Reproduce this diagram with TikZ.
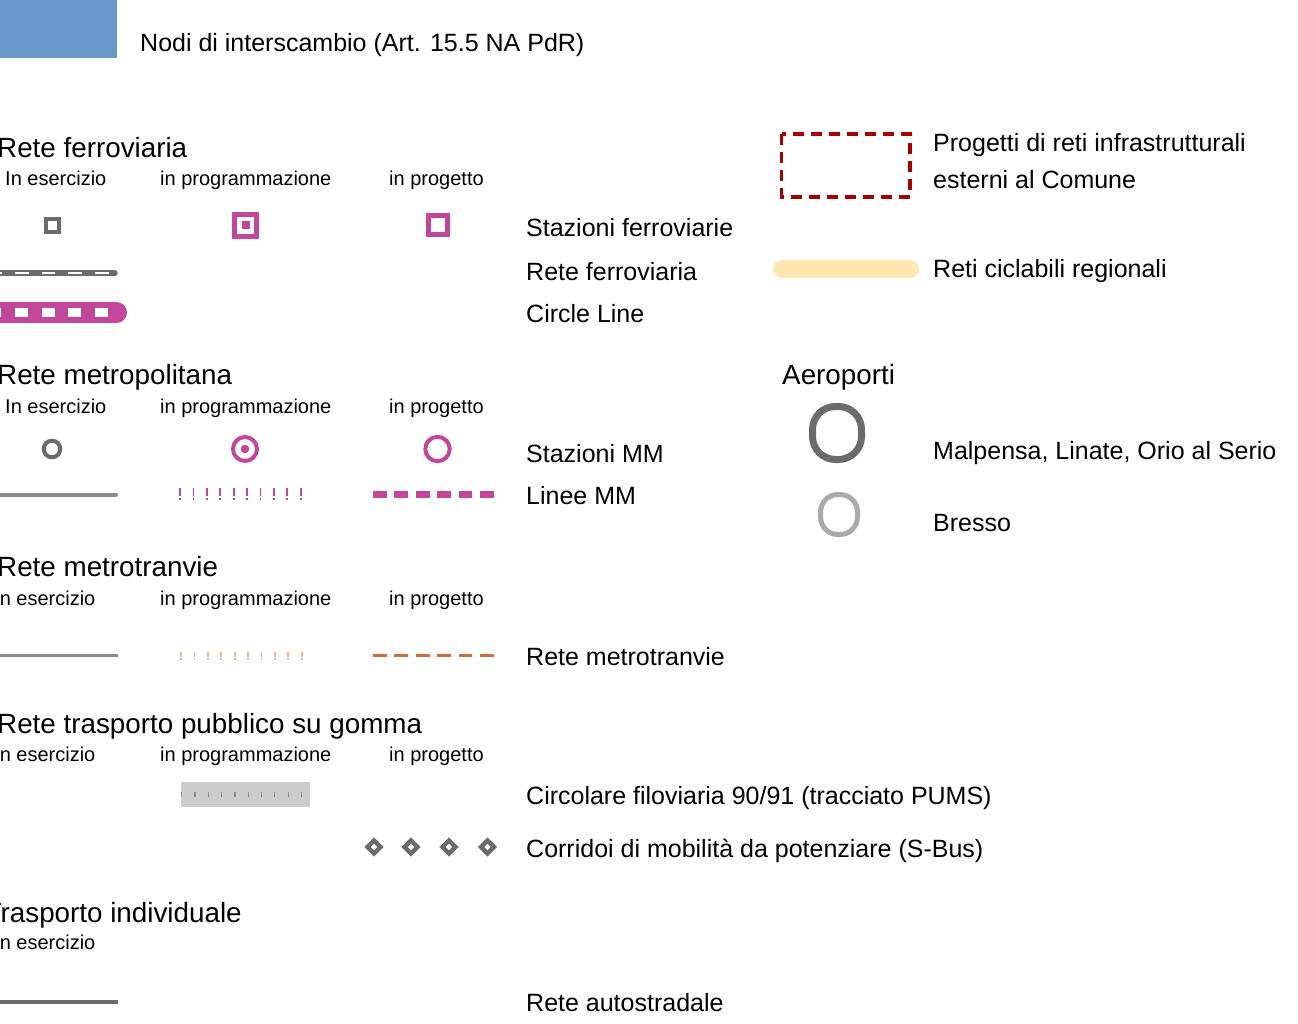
\documentclass[tikz,border=0pt]{standalone}
\usepackage{fontspec}
\setmainfont{Liberation Sans}
\usepackage{xcolor}
\usepackage{tikz}
\definecolor{nodeBlue}{HTML}{6698C8}
\definecolor{stationGray}{HTML}{6B6B6B}
\definecolor{lineGray}{HTML}{8A8A8A}
\definecolor{mmMagenta}{HTML}{C2479A}
\definecolor{tramOrange}{HTML}{CC6E3A}
\definecolor{tramLight}{HTML}{EBB598}
\definecolor{busGray}{HTML}{CCCCCC}
\definecolor{extRed}{HTML}{A50000}
\definecolor{cycleYellow}{HTML}{FDE8B2}
\definecolor{airLight}{HTML}{AAAAAA}
\tikzset{
  legendHead/.style={anchor=base west, inner sep=0pt, font=\fontsize{27.8}{31}\selectfont},
  legendSub/.style={anchor=base west, inner sep=0pt, font=\fontsize{20}{23}\selectfont},
  legendText/.style={anchor=base west, inner sep=0pt, font=\fontsize{25}{29}\selectfont},
  railLine/.style={line width=5.5pt, line cap=round},
  mmTick/.style={mmMagenta, dash pattern=on 1.8pt off 11.6pt},
  tramTick/.style={tramLight, dash pattern=on 1.8pt off 11.6pt},
  planDash/.style={dash pattern=on 13.7pt off 7.7pt}
}

\begin{document}
\begin{tikzpicture}[x=1pt,y=-1pt]
  \useasboundingbox (0,0) rectangle (1298,1024);
  \clip (0,0) rectangle (1298,1024);

  \fill[nodeBlue] (0,0) rectangle (117,58);
  \node[legendText] (nodiLabel) at (140,52) {Nodi di interscambio (Art. 15.5 NA PdR)};

  \node[legendHead] (railHead) at (-3,158) {Rete ferroviaria};
  \node[legendSub] (railEser) at (5,186) {In esercizio};
  \node[legendSub] (railProg) at (160,186) {in programmazione};
  \node[legendSub] (railProj) at (389,186) {in progetto};
  \draw[stationGray, line width=4pt] (46,219) rectangle (59,232);
  \draw[mmMagenta, line width=5pt] (234.5,214.5) rectangle (256.5,236.5);
  \fill[mmMagenta] (241.5,221.5) rectangle (249.5,229.5);
  \draw[mmMagenta, line width=5pt] (428.5,216) rectangle (447.5,235);
  \draw[stationGray, railLine] (-10,273) -- (115,273);
  \draw[white, line width=2.2pt, dash pattern=on 13.5pt off 13.2pt] (-11.7,273) -- (110,273);
  \draw[mmMagenta, line width=21pt, line cap=round] (-20,312.5) -- (116.5,312.5);
  \draw[white, line width=9pt, dash pattern=on 13pt off 13.7pt] (-11.7,312.5) -- (110,312.5);
  \node[legendText] (railStations) at (526,237) {Stazioni ferroviarie};
  \node[legendText] (railNetwork) at (526,281) {Rete ferroviaria};
  \node[legendText] (circleLine) at (526,322) {Circle Line};

  \node[legendHead] (mmHead) at (-3,384) {Rete metropolitana};
  \node[legendSub] (mmEser) at (5,413) {In esercizio};
  \node[legendSub] (mmProg) at (160,413) {in programmazione};
  \node[legendSub] (mmProj) at (389,413) {in progetto};
  \draw[stationGray, line width=4pt] (52,449) circle (8.3);
  \draw[mmMagenta, line width=4pt] (245,449) circle (12);
  \fill[mmMagenta] (245,449) circle (4.3);
  \draw[mmMagenta, line width=4pt] (437.5,449) circle (12.2);
  \draw[lineGray, line width=4pt, line cap=round] (-10,494.5) -- (116,494.5);
  \draw[mmTick, line width=8pt] (179.1,492) -- (303,492);
  \draw[mmTick, line width=2pt] (179.1,499) -- (303,499);
  \draw[mmMagenta, line width=7pt, planDash] (373,494.5) -- (494,494.5);
  \node[legendText] (mmStations) at (526,462) {Stazioni MM};
  \node[legendText] (mmLines) at (526,504) {Linee MM};

  \node[legendHead] (tramHead) at (-3,576) {Rete metrotranvie};
  \node[legendSub] (tramEser) at (-6,605) {In esercizio};
  \node[legendSub] (tramProg) at (160,605) {in programmazione};
  \node[legendSub] (tramProj) at (389,605) {in progetto};
  \draw[lineGray, line width=3.5pt] (-10,655.5) -- (118,655.5);
  \draw[tramTick, line width=5pt] (180.1,654.5) -- (303,654.5);
  \draw[tramTick, line width=1.8pt] (180.1,659) -- (303,659);
  \draw[tramOrange, line width=3.5pt, planDash] (373,655.5) -- (494,655.5);
  \node[legendText] (tramNetwork) at (526,665) {Rete metrotranvie};

  \node[legendHead] (busHead) at (-3,733) {Rete trasporto pubblico su gomma};
  \node[legendSub] (busEser) at (-6,761) {In esercizio};
  \node[legendSub] (busProg) at (160,761) {in programmazione};
  \node[legendSub] (busProj) at (389,761) {in progetto};
  \fill[busGray] (181,782) rectangle (310,806.5);
  \draw[lineGray, line width=5pt, dash pattern=on 1.2pt off 12.1pt] (181.1,794.2) -- (304,794.2);
  \foreach \dx in {374,411,449,487.5}
    \draw[stationGray, line width=4.5pt] (\dx,840.5) -- (\dx+6.5,847) -- (\dx,853.5) -- (\dx-6.5,847) -- cycle;
  \node[legendText] (trolleyLabel) at (526,804) {Circolare filoviaria 90/91 (tracciato PUMS)};
  \node[legendText] (sbusLabel) at (526,857) {Corridoi di mobilità da potenziare (S-Bus)};

  \node[legendHead] (carHead) at (-15.5,922) {Trasporto individuale};
  \node[legendSub] (carEser) at (-6,949) {In esercizio};
  \draw[stationGray, line width=4pt] (-10,1002) -- (118,1002);
  \node[legendText] (motorway) at (526,1011) {Rete autostradale};

  \draw[extRed, line width=3.3pt, dash pattern=on 11pt off 7pt] (781.7,134) rectangle (910,197);
  \node[legendText] (extLine1) at (933,152) {Progetti di reti infrastrutturali};
  \node[legendText] (extLine2) at (933,189) {esterni al Comune};
  \draw[cycleYellow, line width=18pt, line cap=round] (782,269) -- (910,269);
  \node[legendText] (cycleLabel) at (933,277) {Reti ciclabili regionali};

  \node[legendHead] (airHead) at (782,384) {Aeroporti};
  \draw[stationGray, line width=7pt, rounded corners=23pt] (812.5,406.5) rectangle (861.5,459.5);
  \draw[airLight, line width=5pt, rounded corners=17.5pt] (820.5,494.5) rectangle (857.5,534.5);
  \node[legendText] (airMain) at (933,459) {Malpensa, Linate, Orio al Serio};
  \node[legendText] (airBresso) at (933,531) {Bresso};
\end{tikzpicture}
\end{document}
